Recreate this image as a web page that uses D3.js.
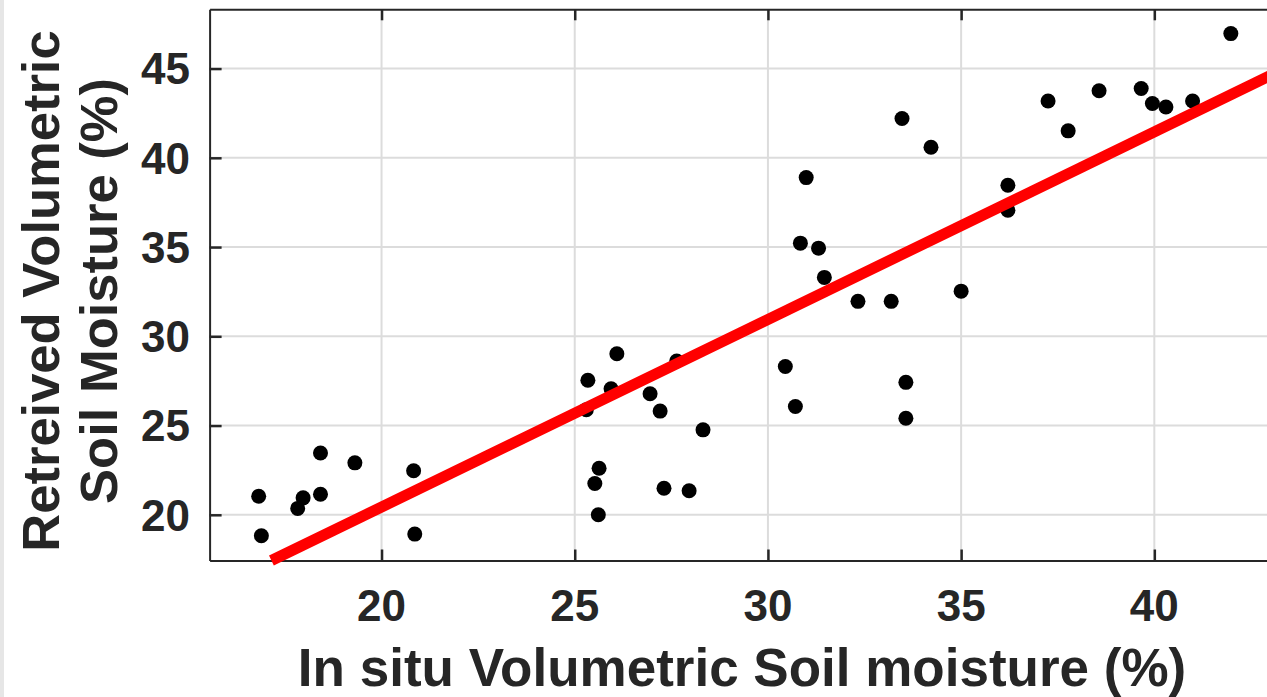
<!DOCTYPE html>
<html>
<head>
<meta charset="utf-8">
<script src="https://cdn.jsdelivr.net/npm/d3@7"></script>
<style>
    body { margin: 0; background: #fff; overflow: hidden; }
    text { font-family: "Liberation Sans", Arial, sans-serif; font-weight: bold; fill: #262626; }
</style>
</head>
<body>
<script>
// in situ vs retrieved soil moisture (%)
const insitu = [16.82, 16.89, 17.83, 17.97, 18.42, 18.42, 19.31, 20.83, 20.86,
    25.34, 25.30, 26.09, 25.94, 26.95, 27.21, 27.64, 28.32, 25.63, 25.52, 25.61,
    27.31, 27.96, 30.45, 30.71, 30.84, 30.99, 31.31, 31.46, 32.33, 33.19, 33.47,
    34.22, 33.57, 33.57, 35.00, 36.21, 36.21, 37.25, 37.77, 38.57, 39.66, 39.95,
    40.30, 40.99, 41.98];
const retrieved = [21.04, 18.83, 20.36, 20.95, 23.46, 21.15, 22.91, 22.47, 18.92,
    27.54, 25.89, 29.02, 27.06, 26.78, 25.81, 28.62, 24.76, 22.61, 21.75, 20.00,
    21.49, 21.35, 28.31, 26.07, 35.22, 38.89, 34.94, 33.30, 31.96, 31.96, 42.20,
    40.59, 27.42, 25.41, 32.53, 38.46, 37.06, 43.18, 41.51, 43.76, 43.88, 43.04,
    42.85, 43.18, 46.96];

// regression line end points
const fitX = [17.15, 43.1];
const fitY = [17.44, 44.71];

const xTicks = [20, 25, 30, 35, 40];
const yTicks = [20, 25, 30, 35, 40, 45];
const xDomain = [15.55, 43.11];
const yDomain = [17.44, 48.32];

const xTitle = "In situ Volumetric Soil moisture (%)";
const yTitle = ["Retreived Volumetric", "Soil Moisture (%)"];

const width = 1267, height = 697;
const plotLeft = 209.6, plotRight = 1274.5, plotTop = 9.3, plotBottom = 560.5;
const radius = 7.5;

const svg = d3.select("body").append("svg")
    .attr("width", width)
    .attr("height", height);

// thin grey strip on the left edge of the figure
svg.append("rect")
    .attr("x", 0).attr("y", 0)
    .attr("width", 4).attr("height", height)
    .attr("fill", "#e6e6e6");

const x = d3.scaleLinear().domain(xDomain).range([plotLeft, plotRight]);
const y = d3.scaleLinear().domain(yDomain).range([plotBottom, plotTop]);

// grid
svg.append("g").selectAll("line")
    .data(xTicks)
    .enter().append("line")
    .attr("x1", d => x(d)).attr("x2", d => x(d))
    .attr("y1", plotTop).attr("y2", plotBottom)
    .attr("stroke", "#dcdcdc").attr("stroke-width", 2);

svg.append("g").selectAll("line")
    .data(yTicks)
    .enter().append("line")
    .attr("x1", plotLeft).attr("x2", plotRight)
    .attr("y1", d => y(d)).attr("y2", d => y(d))
    .attr("stroke", "#dcdcdc").attr("stroke-width", 2);

// axes (ticks point inward)
const styleAxis = g => {
    g.select(".domain").attr("stroke", "#262626").attr("stroke-width", 2);
    g.selectAll(".tick line").attr("stroke", "#262626").attr("stroke-width", 2.5);
    g.selectAll(".tick text").remove();
};

svg.append("g")
    .attr("transform", `translate(0,${plotBottom})`)
    .call(d3.axisBottom(x).tickValues(xTicks).tickSize(-11).tickSizeOuter(0))
    .call(styleAxis);

svg.append("g")
    .attr("transform", `translate(0,${plotTop})`)
    .call(d3.axisTop(x).tickValues(xTicks).tickSize(-11).tickSizeOuter(0))
    .call(styleAxis);

svg.append("g")
    .attr("transform", `translate(${plotLeft},0)`)
    .call(d3.axisLeft(y).tickValues(yTicks).tickSize(-12).tickSizeOuter(0))
    .call(styleAxis);

// tick labels
svg.append("g").selectAll("text")
    .data(xTicks)
    .enter().append("text")
    .attr("x", d => x(d))
    .attr("y", 621)
    .attr("text-anchor", "middle")
    .attr("font-size", 44)
    .text(d => d);

svg.append("g").selectAll("text")
    .data(yTicks)
    .enter().append("text")
    .attr("x", 190)
    .attr("y", d => y(d))
    .attr("dy", "0.36em")
    .attr("text-anchor", "end")
    .attr("font-size", 44)
    .text(d => d);

// titles
svg.append("text")
    .attr("x", (plotLeft + plotRight) / 2)
    .attr("y", 686)
    .attr("text-anchor", "middle")
    .attr("font-size", 53)
    .text(xTitle);

svg.append("text")
    .attr("transform", "translate(0,291) rotate(-90)")
    .attr("text-anchor", "middle")
    .attr("font-size", 52.5)
    .selectAll("tspan")
    .data(yTitle)
    .enter().append("tspan")
    .attr("x", 0)
    .attr("y", (d, i) => 59 + i * 58)
    .text(d => d);

// points
svg.append("g").selectAll("circle")
    .data(insitu)
    .enter().append("circle")
    .attr("cx", d => x(d))
    .attr("cy", (d, i) => y(retrieved[i]))
    .attr("r", radius)
    .attr("fill", "#000");

// fit line drawn over the points
svg.append("line")
    .attr("x1", x(fitX[0])).attr("y1", y(fitY[0]))
    .attr("x2", x(fitX[1])).attr("y2", y(fitY[1]))
    .attr("stroke", "#ff0000")
    .attr("stroke-width", 11);
</script>
</body>
</html>
